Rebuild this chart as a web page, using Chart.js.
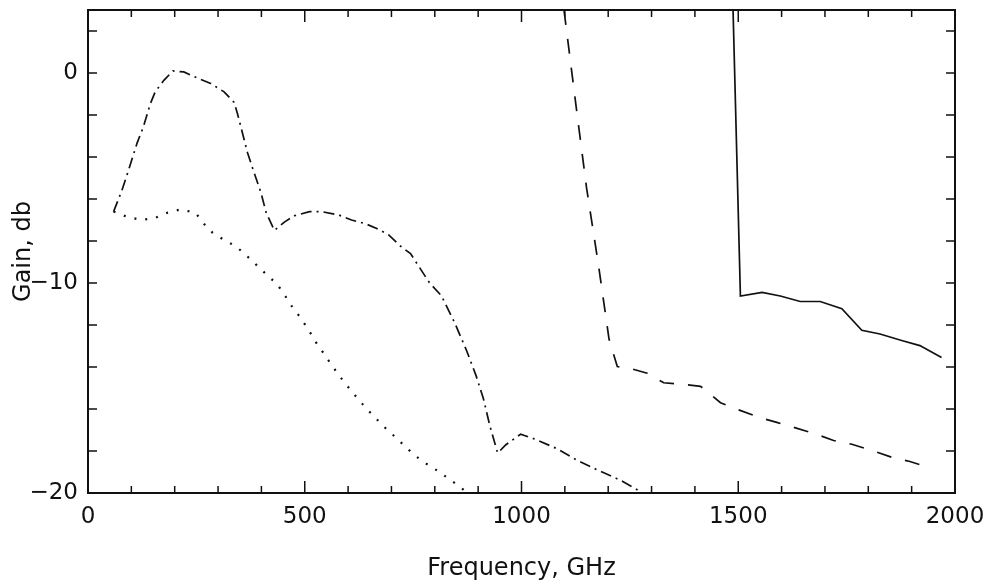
<!DOCTYPE html>
<html><head><meta charset="utf-8">
<script src="https://cdn.jsdelivr.net/npm/chart.js@4.4.1/dist/chart.umd.min.js"></script>
<style>html,body{margin:0;padding:0;background:#fff}</style></head>
<body>
<canvas id="c" width="990" height="587"></canvas>
<script>
// Dash-dot curve
const dashDotFreq = [59,78,94,113,128,144,155,175,196,221,256,283,314,337,345,368,384,399,411,430,453,476,511,538,577,608,639,666,693,724,744,788,815,846,873,895,912,927,945,964,998,1033,1083,1129,1175,1229,1280];
const dashDotGain = [-6.6,-5.6,-4.6,-3.35,-2.55,-1.45,-0.9,-0.35,0.1,0.05,-0.27,-0.5,-0.9,-1.4,-1.95,-3.8,-4.8,-5.7,-6.65,-7.5,-7.1,-6.8,-6.6,-6.6,-6.75,-7.0,-7.17,-7.4,-7.7,-8.3,-8.6,-10,-10.6,-11.9,-13.2,-14.4,-15.5,-16.8,-18.1,-17.7,-17.2,-17.45,-17.9,-18.45,-18.9,-19.4,-20];
// Dotted curve
const dottedFreq = [59,90,124,155,184,213,248,266,287,314,341,366,389,412,436,453,470,490,508,525,542,560,579,600,620,641,662,683,707,730,753,780,807,834,858,875];
const dottedGain = [-6.6,-6.85,-7.0,-6.9,-6.65,-6.5,-6.65,-7.15,-7.6,-7.95,-8.25,-8.7,-9.15,-9.6,-10.05,-10.55,-11.1,-11.65,-12.2,-12.8,-13.3,-13.85,-14.4,-14.95,-15.45,-15.95,-16.4,-16.85,-17.3,-17.75,-18.2,-18.6,-18.95,-19.35,-19.7,-20];
// Dashed curve
const dashedFreq = [1098,1127,1150,1177,1202,1221,1244,1290,1328,1378,1413,1424,1459,1501,1547,1589,1632,1674,1720,1762,1808,1854,1896,1942];
const dashedGain = [3,-1.76,-5.46,-9.07,-12.68,-13.98,-14.03,-14.3,-14.75,-14.84,-14.92,-15.1,-15.7,-16.04,-16.39,-16.64,-16.9,-17.16,-17.5,-17.68,-17.97,-18.3,-18.5,-18.8];
// Solid curve
const solidFreq = [1488,1505,1555,1597,1643,1689,1739,1785,1827,1877,1919,1969];
const solidGain = [3,-10.62,-10.45,-10.62,-10.88,-10.88,-11.22,-12.25,-12.43,-12.74,-12.98,-13.55];

const xLabels = [0,500,1000,1500,2000];
const yLabels = [0,-10,-20];

const pts = (xs, ys) => xs.map((v, i) => ({x: v, y: ys[i]}));
const INK = '#111';
const FONT = "'DejaVu Sans', Verdana, sans-serif";

const framePlugin = {
  id: 'frame',
  afterDatasetsDraw(chart) {
    const {ctx, chartArea: a, scales: {x, y}} = chart;
    ctx.save();
    ctx.strokeStyle = INK;
    ctx.lineWidth = 2;
    ctx.strokeRect(a.left, a.top, a.right - a.left, a.bottom - a.top);
    ctx.lineWidth = 1.5;
    ctx.beginPath();
    x.ticks.forEach(t => {
      const p = x.getPixelForValue(t.value);
      const L = xLabels.includes(t.value) ? 12 : 7;
      ctx.moveTo(p, a.bottom); ctx.lineTo(p, a.bottom - L);
      ctx.moveTo(p, a.top); ctx.lineTo(p, a.top + L);
    });
    y.ticks.forEach(t => {
      const p = y.getPixelForValue(t.value);
      ctx.moveTo(a.left, p); ctx.lineTo(a.left + 9, p);
      ctx.moveTo(a.right, p); ctx.lineTo(a.right - 9, p);
    });
    ctx.stroke();
    ctx.restore();
  }
};

const base = {borderColor: INK, borderWidth: 1.7, pointRadius: 0, fill: false, tension: 0};

new Chart(document.getElementById('c'), {
  type: 'line',
  data: {
    datasets: [
      {...base, data: pts(dashDotFreq, dashDotGain), borderDash: [11, 5, 2, 5]},
      {...base, data: pts(dottedFreq, dottedGain), borderDash: [2, 9], borderWidth: 2.2},
      {...base, data: pts(dashedFreq, dashedGain), borderDash: [15, 14]},
      {...base, data: pts(solidFreq, solidGain)}
    ]
  },
  options: {
    responsive: false,
    animation: false,
    devicePixelRatio: 1,
    layout: {padding: {left: 0, right: 35, top: 10, bottom: 0}},
    plugins: {legend: {display: false}, tooltip: {enabled: false}},
    scales: {
      x: {
        type: 'linear', min: 0, max: 2000,
        grid: {display: false, drawTicks: false},
        border: {display: false},
        ticks: {
          stepSize: 100, autoSkip: false, maxRotation: 0, padding: 10,
          color: INK, font: {family: FONT, size: 23},
          callback: v => xLabels.includes(v) ? String(v) : ''
        },
        title: {display: true, text: 'Frequency, GHz', color: INK, font: {family: FONT, size: 24}, padding: {top: 10, bottom: 4}},
        afterFit: s => { s.height = 94; s.paddingLeft = 0; s.paddingRight = 0; }
      },
      y: {
        type: 'linear', min: -20, max: 3,
        grid: {display: false, drawTicks: false},
        border: {display: false},
        ticks: {
          stepSize: 2, includeBounds: false, autoSkip: false, padding: 10,
          color: INK, font: {family: FONT, size: 23},
          callback: v => yLabels.includes(v) ? (v < 0 ? '\u2212' + Math.abs(v) : String(v)) : ''
        },
        title: {display: true, text: 'Gain, db', color: INK, font: {family: FONT, size: 24}, padding: {top: 9, bottom: 0}},
        afterFit: s => { s.width = 88; s.paddingTop = 0; s.paddingBottom = 0; }
      }
    }
  },
  plugins: [framePlugin]
});
</script>
</body></html>
